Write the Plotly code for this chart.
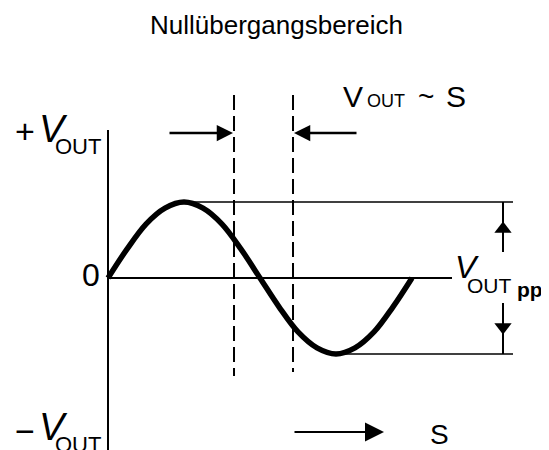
import plotly.graph_objects as go

# ---- data: one period of the output signal (phase in periods, amplitude in V_OUT units)
wave_s = [0, 0.0625, 0.125, 0.1875, 0.25, 0.3125, 0.375, 0.4375, 0.5,
          0.5625, 0.625, 0.6875, 0.75, 0.8125, 0.875, 0.9375, 1.0]
wave_v = [0, 0.38, 0.71, 0.92, 1.0, 0.92, 0.71, 0.38, 0,
          -0.38, -0.71, -0.92, -1.0, -0.92, -0.71, -0.38, 0]
title_text = "Nullübergangsbereich"
zero_band = [0.4145, 0.6086]        # zero-crossing region (phase)

# ---- layout geometry (page pixels -> diagram units)
W, H = 549, 450
BODY = 8                            # default page margin around the plot div
X0, PERIOD, Y0, AMP = 108, 304, 278, 76
def X(px): return (px - X0) / PERIOD
def Y(py): return (Y0 - py) / AMP

FONT = "Liberation Sans, Arial, sans-serif"

fig = go.Figure()

# sine wave
fig.add_trace(go.Scatter(x=wave_s, y=wave_v, mode="lines",
                         line=dict(color="black", width=5.5, shape="spline"),
                         hoverinfo="skip", showlegend=False))

shapes = []
shapes.append(dict(type="line", x0=0, x1=0, y0=Y(130), y1=Y(452),
                   line=dict(color="black", width=2)))
shapes.append(dict(type="line", x0=0, x1=X(452), y0=0, y1=0,
                   line=dict(color="black", width=2)))
shapes.append(dict(type="line", x0=0.25, x1=X(513), y0=1, y1=1,
                   line=dict(color="black", width=1.6)))
shapes.append(dict(type="line", x0=0.75, x1=X(513), y0=-1, y1=-1,
                   line=dict(color="black", width=1.6)))
shapes.append(dict(type="line", x0=zero_band[0], x1=zero_band[0], y0=Y(95), y1=Y(376),
                   line=dict(color="black", width=2, dash="15px,6px")))
shapes.append(dict(type="line", x0=zero_band[1], x1=zero_band[1], y0=Y(95), y1=Y(372),
                   line=dict(color="black", width=2, dash="15px,6px")))
shapes.append(dict(type="line", x0=X(503), x1=X(503), y0=1, y1=Y(252),
                   line=dict(color="black", width=2)))
shapes.append(dict(type="line", x0=X(503), x1=X(503), y0=-1, y1=Y(303),
                   line=dict(color="black", width=2)))
fig.update_layout(shapes=shapes)

fig.add_trace(go.Scatter(x=[X(503)], y=[Y(229)], mode="markers",
                         marker=dict(symbol="triangle-up", size=15, color="black"),
                         hoverinfo="skip", showlegend=False))
fig.add_trace(go.Scatter(x=[X(503)], y=[Y(327)], mode="markers",
                         marker=dict(symbol="triangle-down", size=15, color="black"),
                         hoverinfo="skip", showlegend=False))

ann = []
def arrow(x_head, y_head, x_tail, y_tail, w=2.5, size=1.3):
    ann.append(dict(x=X(x_head), y=Y(y_head), ax=X(x_tail), ay=Y(y_tail),
                    xref="x", yref="y", axref="x", ayref="y", text="",
                    showarrow=True, arrowhead=2, arrowsize=size, arrowwidth=w,
                    arrowcolor="black"))
arrow(233, 133, 168, 133)
arrow(294, 133, 358, 133)
arrow(384, 432, 293, 432, w=2, size=1.9)

def txt(s, px, py, size):
    ann.append(dict(x=X(px), y=Y(py), xref="x", yref="y", text=s, showarrow=False,
                    font=dict(family=FONT, size=size, color="black"),
                    xanchor="center", yanchor="middle"))

txt(title_text, 276, 25, 26)
# V_OUT ~ S
txt("V", 353, 96, 30)
txt("OUT", 386, 101, 18)
txt("~", 426, 96, 28)
txt("S", 456, 96, 30)
# S at bottom
txt("S", 439, 434, 28)
# +V_OUT
txt("+", 25, 131, 34)
txt("<i>V</i>", 53, 129, 38)
txt("OUT", 78, 146, 22)
# -V_OUT
txt("\u2212", 25, 431, 34)
txt("<i>V</i>", 53, 427, 38)
txt("OUT", 78, 444, 22)
# 0
txt("0", 91, 275, 32)
# V_OUTpp
txt("<i>V</i>", 467, 267, 32)
txt("OUT", 489, 285, 21)
txt("<b>pp</b>", 530, 289, 21)

fig.update_layout(annotations=ann)

fig.update_layout(
    width=W - BODY, height=H - BODY, margin=dict(l=0, r=0, t=0, b=0),
    paper_bgcolor="white", plot_bgcolor="white",
    xaxis=dict(range=[X(BODY), X(W)], visible=False, fixedrange=True),
    yaxis=dict(range=[Y(H), Y(BODY)], visible=False, fixedrange=True),
    showlegend=False,
)

fig.write_html("out.html")
